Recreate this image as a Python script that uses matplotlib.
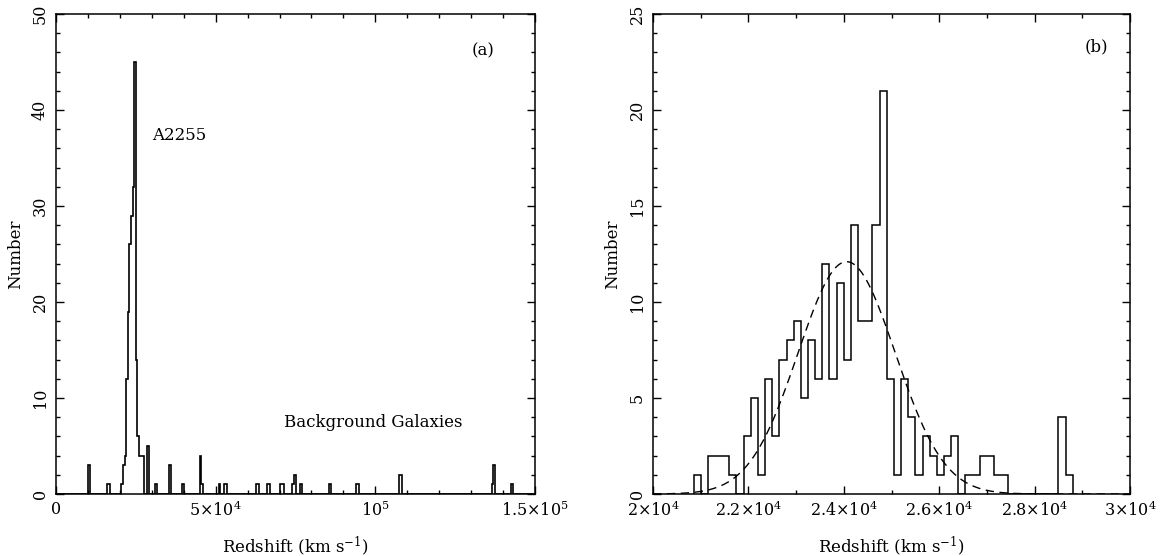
import numpy as np
import matplotlib
matplotlib.use("Agg")
import matplotlib.pyplot as plt
from matplotlib.ticker import MultipleLocator, FixedLocator

plt.rcParams["font.family"] = ["DejaVu Serif"]
plt.rcParams["mathtext.fontset"] = "dejavuserif"

# ---- (a) full redshift survey, 500 km/s bins ----
a_bin_width = 500
a_bin_start = [10000, 16000, 16500, 20500, 21000, 21500, 22000, 22500, 23000,
               23500, 24000, 24500, 25000, 25500, 26000, 26500, 27000, 28500,
               31000, 35500, 39500, 45000, 45500, 51000, 52500, 53000, 62500,
               63000, 66000, 66500, 70000, 70500, 71000, 74000, 74500, 76500,
               85500, 94000, 94500, 107500, 108000, 136500, 137000, 142500]
a_counts = [3, 1, 1, 1, 3, 4, 12, 19, 26,
            29, 32, 45, 14, 6, 4, 4, 4, 5,
            1, 3, 1, 4, 1, 1, 1, 1, 1,
            1, 1, 1, 1, 1, 1, 1, 2, 1,
            1, 1, 1, 2, 2, 1, 3, 1]
a_xticks = [0, 50000, 100000, 150000]
a_xticklabels = ["0", r"$5{\times}10^{4}$", r"$10^{5}$", r"$1.5{\times}10^{5}$"]
a_yticks = [0, 10, 20, 30, 40, 50]

# ---- (b) cluster region, 150 km/s bins ----
b_first_edge = 20850
b_bin_width = 150
b_counts = [1, 0, 2, 2, 2, 1, 0, 3, 5, 1, 6, 3, 7, 8, 9, 5, 8, 6, 12, 6,
            11, 7, 14, 9, 9, 14, 21, 6, 1, 6, 4, 1, 3, 2, 1, 2, 3, 0, 1, 1,
            2, 2, 1, 1, 0, 0, 0, 0, 0, 0, 0, 4, 1]
b_xticks = [20000, 22000, 24000, 26000, 28000, 30000]
b_xticklabels = [r"$2{\times}10^{4}$", r"$2.2{\times}10^{4}$", r"$2.4{\times}10^{4}$",
                 r"$2.6{\times}10^{4}$", r"$2.8{\times}10^{4}$", r"$3{\times}10^{4}$"]
b_yticks = [0, 5, 10, 15, 20, 25]

# Gaussian fit to the cluster velocity distribution
gauss_mean = 24060.0
gauss_sigma = 1020.0
gauss_peak = 12.1

fig = plt.figure(figsize=(11.6, 5.56), dpi=100)
ax_a = fig.add_axes([56 / 1160, 62 / 556, 479 / 1160, 480 / 556])
ax_b = fig.add_axes([653 / 1160, 62 / 556, 477 / 1160, 480 / 556])


def style_axes(ax):
    for sp in ax.spines.values():
        sp.set_linewidth(1.1)
    ax.tick_params(which="both", direction="in", top=True, right=True,
                   width=1.0, labelsize=11.5)
    ax.tick_params(which="major", length=6)
    ax.tick_params(which="minor", length=3)
    ax.tick_params(axis="x", pad=5)
    ax.tick_params(axis="y", pad=5)
    plt.setp(ax.get_yticklabels(), rotation=90, va="center")
    ax.set_xlabel(r"Redshift (km s$^{-1}$)", fontsize=12, labelpad=10)
    ax.set_ylabel("Number", fontsize=12, labelpad=6)


# panel (a)
a_edges = np.arange(0, 150000 + a_bin_width, a_bin_width)
a_hist = np.zeros(len(a_edges) - 1)
for start, n in zip(a_bin_start, a_counts):
    a_hist[start // a_bin_width] = n
ax_a.stairs(a_hist, a_edges, color="black", linewidth=1.2)
ax_a.set_xlim(0, 150000)
ax_a.set_ylim(0, 50)
ax_a.xaxis.set_major_locator(FixedLocator(a_xticks))
ax_a.set_xticklabels(a_xticklabels)
ax_a.xaxis.set_minor_locator(MultipleLocator(10000))
ax_a.yaxis.set_major_locator(FixedLocator(a_yticks))
ax_a.yaxis.set_minor_locator(MultipleLocator(2))
style_axes(ax_a)
ax_a.text(133700, 46.2, "(a)", ha="center", va="center", fontsize=12)
ax_a.text(30000, 37.3, "A2255", ha="left", va="center", fontsize=12)
ax_a.text(71400, 7.4, "Background Galaxies", ha="left", va="center", fontsize=12)

# panel (b)
b_edges = b_first_edge + b_bin_width * np.arange(len(b_counts) + 1)
ax_b.stairs(b_counts, b_edges, color="black", linewidth=1.1)
v = np.linspace(20000, 30000, 600)
ax_b.plot(v, gauss_peak * np.exp(-0.5 * ((v - gauss_mean) / gauss_sigma) ** 2),
          color="black", linewidth=1.0, linestyle=(0, (6, 4)))
ax_b.set_xlim(20000, 30000)
ax_b.set_ylim(0, 25)
ax_b.xaxis.set_major_locator(FixedLocator(b_xticks))
ax_b.set_xticklabels(b_xticklabels)
ax_b.xaxis.set_minor_locator(MultipleLocator(1000))
ax_b.yaxis.set_major_locator(FixedLocator(b_yticks))
ax_b.yaxis.set_minor_locator(MultipleLocator(1))
style_axes(ax_b)
ax_b.text(29290, 23.3, "(b)", ha="center", va="center", fontsize=12)

fig.savefig("out.png", dpi=100)
